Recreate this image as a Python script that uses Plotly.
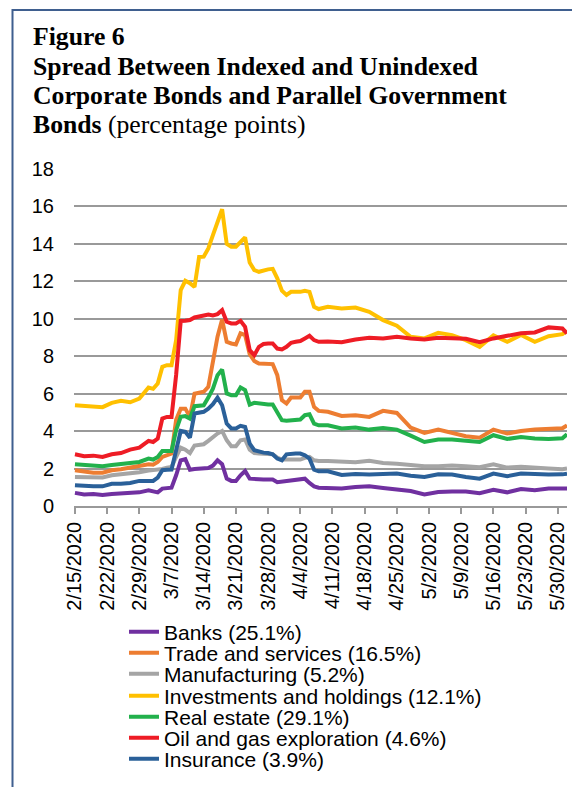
import plotly.graph_objects as go

# ---------------- data ----------------
dates = [
    "2020-02-15", "2020-02-17", "2020-02-19", "2020-02-21", "2020-02-23",
    "2020-02-25", "2020-02-27", "2020-02-29", "2020-03-02",
    "2020-03-03", "2020-03-04", "2020-03-05", "2020-03-06", "2020-03-07",
    "2020-03-08", "2020-03-09", "2020-03-10", "2020-03-11", "2020-03-12",
    "2020-03-13", "2020-03-14", "2020-03-15", "2020-03-16", "2020-03-17",
    "2020-03-18", "2020-03-19", "2020-03-20", "2020-03-21", "2020-03-22",
    "2020-03-23", "2020-03-24", "2020-03-25", "2020-03-26", "2020-03-27",
    "2020-03-28", "2020-03-29", "2020-03-30", "2020-03-31", "2020-04-01",
    "2020-04-02", "2020-04-03", "2020-04-04", "2020-04-05", "2020-04-06",
    "2020-04-07", "2020-04-08",
    "2020-04-10", "2020-04-13", "2020-04-16", "2020-04-19", "2020-04-22",
    "2020-04-25", "2020-04-28", "2020-05-01", "2020-05-04", "2020-05-07",
    "2020-05-10", "2020-05-13", "2020-05-16", "2020-05-19", "2020-05-22",
    "2020-05-25", "2020-05-28", "2020-05-31", "2020-06-01",
]

banks = [
    0.70, 0.62, 0.64, 0.59, 0.64, 0.68, 0.71, 0.73, 0.84,
    0.80, 0.73, 0.93, 0.96, 0.98, 1.64, 2.44, 2.50, 1.94, 1.98, 2.00, 2.01,
    2.03, 2.16, 2.44, 2.23, 1.46, 1.34, 1.34, 1.64, 1.87, 1.46, 1.43, 1.43,
    1.41, 1.41, 1.41, 1.27, 1.30, 1.37, 1.37, 1.39, 1.41, 1.46, 1.23, 1.05, 0.98,
    0.98, 0.93, 1.02, 1.05, 0.96, 0.87, 0.80, 0.62, 0.75, 0.78, 0.77, 0.68,
    0.87, 0.73, 0.91, 0.84, 0.93, 0.93, 0.93,
]
trade = [
    1.91, 1.82, 1.78, 1.78, 1.91, 1.96, 2.05, 2.09, 2.23,
    2.21, 2.35, 2.62, 2.71, 2.80, 4.60, 5.20, 5.20, 4.76, 6.00, 6.04, 6.10,
    6.36, 7.79, 9.04, 9.96, 8.77, 8.68, 8.63, 9.22, 9.13, 8.11, 7.74, 7.61,
    7.59, 7.58, 7.58, 6.99, 5.65, 5.47, 5.79, 5.79, 5.79, 6.10, 6.10, 5.29, 5.08,
    5.03, 4.81, 4.85, 4.76, 5.08, 4.97, 4.19, 3.90, 4.08, 3.90, 3.73, 3.65,
    4.08, 3.87, 4.01, 4.08, 4.12, 4.15, 4.31,
]
manufacturing = [
    1.55, 1.53, 1.52, 1.52, 1.64, 1.69, 1.73, 1.80, 1.89,
    1.91, 1.94, 1.98, 2.05, 2.09, 2.62, 3.12, 3.01, 2.83, 3.23, 3.28, 3.30,
    3.48, 3.69, 3.87, 4.01, 3.51, 3.19, 3.19, 3.51, 3.55, 3.01, 2.83, 2.80,
    2.80, 2.78, 2.76, 2.58, 2.48, 2.48, 2.48, 2.48, 2.48, 2.57, 2.62, 2.44, 2.41,
    2.41, 2.35, 2.34, 2.41, 2.30, 2.26, 2.17, 2.12, 2.12, 2.16, 2.12, 2.07,
    2.23, 2.05, 2.09, 2.07, 2.00, 1.96, 2.00,
]
investments = [
    5.38, 5.35, 5.33, 5.28, 5.51, 5.62, 5.54, 5.74, 6.33,
    6.26, 6.54, 7.43, 7.52, 7.52, 8.86, 11.53, 12.03, 11.90, 11.70, 13.30, 13.32,
    13.76, 14.47, 15.19, 15.85, 14.00, 13.85, 13.85, 14.12, 14.35, 13.00, 12.60, 12.51,
    12.60, 12.64, 12.67, 12.16, 11.50, 11.27, 11.44, 11.44, 11.44, 11.50, 11.44, 10.64, 10.52,
    10.64, 10.55, 10.60, 10.37, 9.93, 9.63, 9.04, 8.95, 9.25, 9.13, 8.86, 8.50,
    9.11, 8.77, 9.13, 8.77, 9.07, 9.18, 9.36,
]
real_estate = [
    2.23, 2.21, 2.17, 2.12, 2.19, 2.23, 2.26, 2.35, 2.53,
    2.48, 2.62, 2.94, 2.94, 2.94, 4.05, 4.76, 4.80, 4.67, 5.33, 5.38, 5.38,
    5.79, 6.27, 6.99, 7.29, 6.01, 5.92, 5.92, 6.33, 6.19, 5.42, 5.51, 5.47,
    5.44, 5.42, 5.42, 5.03, 4.58, 4.55, 4.58, 4.62, 4.62, 4.85, 4.90, 4.40, 4.31,
    4.31, 4.14, 4.19, 4.08, 4.17, 4.08, 3.76, 3.42, 3.55, 3.55, 3.48, 3.42,
    3.78, 3.58, 3.69, 3.60, 3.58, 3.62, 3.83,
]
oil_gas = [
    2.76, 2.66, 2.69, 2.62, 2.76, 2.83, 3.01, 3.12, 3.48,
    3.42, 3.60, 4.67, 4.76, 4.76, 7.00, 9.88, 9.89, 9.93, 10.07, 10.14, 10.16,
    10.23, 10.18, 10.25, 10.46, 9.84, 9.75, 9.75, 9.89, 9.57, 8.32, 8.06, 8.50,
    8.65, 8.68, 8.68, 8.41, 8.36, 8.50, 8.72, 8.77, 8.81, 8.95, 9.09, 8.86, 8.77,
    8.79, 8.75, 8.89, 8.98, 8.95, 9.04, 8.95, 8.89, 8.98, 8.98, 8.93, 8.75,
    8.95, 9.09, 9.23, 9.27, 9.54, 9.48, 9.22,
]
insurance = [
    1.11, 1.07, 1.05, 1.05, 1.19, 1.19, 1.23, 1.34, 1.37,
    1.34, 1.52, 1.91, 1.93, 1.94, 2.98, 4.01, 3.96, 3.65, 4.94, 4.99, 5.03,
    5.20, 5.44, 5.79, 5.38, 4.40, 4.14, 4.14, 4.28, 4.22, 3.33, 2.98, 2.89,
    2.85, 2.83, 2.76, 2.53, 2.44, 2.76, 2.80, 2.80, 2.80, 2.71, 2.53, 1.94, 1.85,
    1.85, 1.66, 1.71, 1.68, 1.69, 1.73, 1.62, 1.55, 1.69, 1.68, 1.55, 1.46,
    1.73, 1.59, 1.73, 1.68, 1.68, 1.69, 1.73,
]

series_names = [
    "Banks (25.1%)",
    "Trade and services (16.5%)",
    "Manufacturing (5.2%)",
    "Investments and holdings (12.1%)",
    "Real estate (29.1%)",
    "Oil and gas exploration (4.6%)",
    "Insurance (3.9%)",
]
series_values = [banks, trade, manufacturing, investments, real_estate, oil_gas, insurance]
series_colors = ["#7030A0", "#ED7D31", "#A5A5A5", "#FFC000", "#22B14C", "#EE1C25", "#2A6099"]

tick_dates = [
    "2020-02-15", "2020-02-22", "2020-02-29", "2020-03-07", "2020-03-14",
    "2020-03-21", "2020-03-28", "2020-04-04", "2020-04-11", "2020-04-18",
    "2020-04-25", "2020-05-02", "2020-05-09", "2020-05-16", "2020-05-23",
    "2020-05-30",
]
tick_labels = [
    "2/15/2020", "2/22/2020", "2/29/2020", "3/7/2020", "3/14/2020",
    "3/21/2020", "3/28/2020", "4/4/2020", "4/11/2020", "4/18/2020",
    "4/25/2020", "5/2/2020", "5/9/2020", "5/16/2020", "5/23/2020",
    "5/30/2020",
]
y_ticks = [0, 2, 4, 6, 8, 10, 12, 14, 16, 18]

# ---------------- layout geometry ----------------
# the page body has an 8px margin, so the figure is drawn 8px in from the
# window's top-left corner; all pixel targets below are window coordinates.
OFF = 8
WIN_W, WIN_H = 580, 787
W, H = WIN_W - OFF, WIN_H - OFF
PL, PR, PT, PB = 74, 567, 169, 506          # plot area in window pixels
ML, MR, MT, MB = PL - OFF, WIN_W - PR, PT - OFF, WIN_H - PB
PW = W - ML - MR
PH = H - MT - MB


def px_x(px):
    return (px - PL) / PW


def px_y(py):
    return (PB - py) / PH


FONT = "Liberation Sans, Arial, sans-serif"
SERIF = "Liberation Serif, Times New Roman, serif"

legend_rows = [632, 653, 674, 696, 717, 738, 759]
legend_keys = ["legend", "legend2", "legend3", "legend4", "legend5", "legend6", "legend7"]

fig = go.Figure()
for name, vals, col, lk in zip(series_names, series_values, series_colors, legend_keys):
    fig.add_trace(go.Scatter(
        x=dates, y=vals, mode="lines", name=name,
        line=dict(color=col, width=4), legend=lk,
    ))

title_lines = [
    ("<b>Figure 6</b>", 36),
    ("<b>Spread Between Indexed and Unindexed</b>", 66),
    ("<b>Corporate Bonds and Parallel Government</b>", 96),
    ("<b>Bonds</b> (percentage points)", 124.5),
]
annotations = []
for txt, py in title_lines:
    annotations.append(dict(
        text=txt, xref="paper", yref="paper", x=px_x(31), y=px_y(py),
        xanchor="left", yanchor="middle", showarrow=False,
        font=dict(family=SERIF, size=25.7, color="black"),
    ))

shapes = [
    # outer frame (left and top edges visible)
    dict(type="rect", xref="paper", yref="paper",
         x0=px_x(12.5), x1=px_x(640), y0=px_y(840), y1=px_y(10),
         line=dict(color="#3F5F8F", width=2), fillcolor="rgba(0,0,0,0)",
         layer="above"),
]

legend_layouts = {}
for lk, row in zip(legend_keys, legend_rows):
    legend_layouts[lk] = dict(
        x=px_x(124), y=px_y(row), xanchor="left", yanchor="middle",
        bgcolor="rgba(0,0,0,0)", borderwidth=0,
        font=dict(family=FONT, size=21, color="black"),
        itemwidth=30,
    )

fig.update_layout(
    width=W, height=H,
    margin=dict(l=ML, r=MR, t=MT, b=MB, pad=0, autoexpand=False),
    paper_bgcolor="white", plot_bgcolor="white",
    font=dict(family=FONT, size=20, color="black"),
    showlegend=True,
    annotations=annotations,
    shapes=shapes,
    xaxis=dict(
        type="date",
        range=["2020-02-14 19:00", "2020-06-01 00:00"],
        tickmode="array", tickvals=tick_dates, ticktext=tick_labels,
        tickangle=-90, ticks="outside", ticklen=6, tickcolor="#999999", tickwidth=1.5,
        showline=True, linecolor="#999999", linewidth=1.5,
        showgrid=False, zeroline=False, automargin=False,
        tickfont=dict(family=FONT, size=20, color="black"),
    ),
    yaxis=dict(
        range=[0, 18], tickmode="array", tickvals=y_ticks,
        showgrid=True, gridcolor="#999999", gridwidth=1.5,
        zeroline=False, showline=False, ticks="", automargin=False,
        ticklabelstandoff=19,
        tickfont=dict(family=FONT, size=20, color="black"),
    ),
    **legend_layouts,
)

fig.write_html("out.html")
